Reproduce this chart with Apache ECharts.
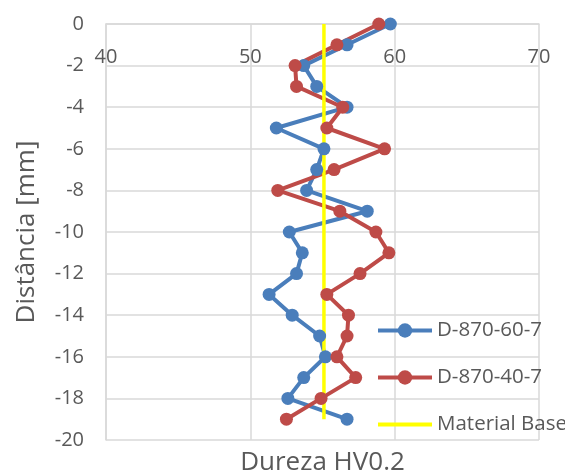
<!DOCTYPE html>
<html>
<head>
<meta charset="utf-8">
<script src="https://cdn.jsdelivr.net/npm/echarts@6/dist/echarts.min.js"></script>
<style>
  html, body { margin: 0; padding: 0; background: #fff; }
  #chart { width: 565px; height: 475px; }
</style>
</head>
<body>
<div id="chart"></div>
<script>
// distance from surface (mm)
const depths = [0, -1, -2, -3, -4, -5, -6, -7, -8, -9, -10, -11, -12, -13, -14, -15, -16, -17, -18, -19];
// hardness readings HV0.2
const hv60 = [59.7, 56.7, 53.7, 54.6, 56.7, 51.8, 55.1, 54.6, 53.9, 58.1, 52.7, 53.6, 53.2, 51.3, 52.9, 54.8, 55.2, 53.7, 52.6, 56.7];
const hv40 = [58.9, 56.0, 53.1, 53.2, 56.4, 55.3, 59.3, 55.8, 51.9, 56.2, 58.7, 59.6, 57.6, 55.3, 56.8, 56.7, 56.0, 57.3, 54.9, 52.5];
// base material reference
const baseHV = 55.1;
const baseDepths = [0, -19];

const seriesNames = ['D-870-60-7', 'D-870-40-7', 'Material Base'];
const xTicks = { min: 40, max: 70, step: 10 };
const yTicks = { min: -20, max: 0, step: 2 };

const FONT = '"Open Sans", sans-serif';
const TXT = '#595959';
const GRID = '#d9d9d9';

const pairs = (xs, ys) => xs.map((x, i) => [x, ys[i]]);

const chart = echarts.init(document.getElementById('chart'));
chart.setOption({
    animation: false,
    textStyle: { fontFamily: FONT },
    grid: { left: 106, right: 26, top: 24, bottom: 35, outerBoundsMode: 'none', containLabel: false },
    legend: {
        orient: 'vertical',
        left: 371,
        top: 315,
        itemWidth: 54,
        itemHeight: 18,
        itemGap: 26,
        lineStyle: { width: 4 },
        data: [
            { name: seriesNames[0] },
            { name: seriesNames[1] },
            { name: seriesNames[2], itemStyle: { opacity: 0 } }
        ],
        textStyle: { color: TXT, fontSize: 20.5, fontFamily: FONT }
    },
    xAxis: [{
        type: 'value',
        position: 'top',
        min: xTicks.min, max: xTicks.max, interval: xTicks.step,
        axisLine: { show: true, lineStyle: { color: GRID, width: 1.5 } },
        axisTick: { show: false },
        axisLabel: { inside: true, margin: 23, color: TXT, fontSize: 20, fontFamily: FONT },
        splitLine: { show: true, lineStyle: { color: GRID, width: 1.5 } }
    }, {
        type: 'value',
        position: 'bottom',
        min: xTicks.min, max: xTicks.max,
        axisLine: { show: false }, axisTick: { show: false },
        axisLabel: { show: false }, splitLine: { show: false },
        name: 'Dureza HV0.2',
        nameLocation: 'middle',
        nameGap: 10,
        nameTextStyle: { color: TXT, fontSize: 26, fontFamily: FONT, verticalAlign: 'top' }
    }],
    yAxis: {
        type: 'value',
        min: yTicks.min, max: yTicks.max, interval: yTicks.step,
        axisLine: { show: true, onZero: false, lineStyle: { color: GRID, width: 1.5 } },
        axisTick: { show: false },
        axisLabel: { margin: 22, color: TXT, fontSize: 20, fontFamily: FONT },
        splitLine: { show: true, lineStyle: { color: GRID, width: 1.5 } },
        name: 'Distância [mm]',
        nameLocation: 'middle',
        nameGap: 66,
        nameTextStyle: { color: TXT, fontSize: 26, fontFamily: FONT }
    },
    series: [{
        name: seriesNames[0],
        type: 'line',
        data: pairs(hv60, depths),
        symbol: 'circle',
        symbolSize: 13,
        color: '#4a7ebb',
        lineStyle: { width: 4 }
    }, {
        name: seriesNames[1],
        type: 'line',
        data: pairs(hv40, depths),
        symbol: 'circle',
        symbolSize: 13,
        color: '#be4b48',
        lineStyle: { width: 4 }
    }, {
        name: seriesNames[2],
        type: 'line',
        data: baseDepths.map(d => [baseHV, d]),
        symbol: 'none',
        color: '#ffff00',
        lineStyle: { width: 3.5 },
        z: 3
    }]
});
</script>
</body>
</html>
